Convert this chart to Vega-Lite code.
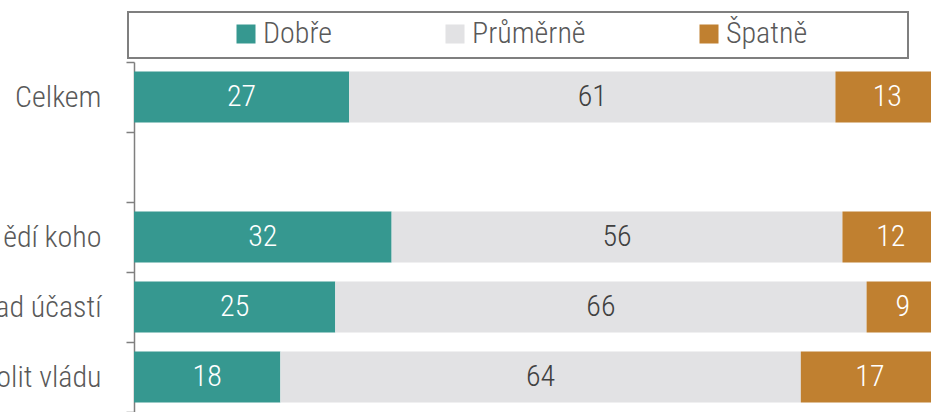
{
  "$schema": "https://vega.github.io/schema/vega-lite/v6.json",
  "autosize": {"type": "none"},
  "width": 797,
  "height": 350,
  "padding": {"left": 134, "top": 62, "right": 0, "bottom": 0},
  "background": "white",
  "config": {
    "view": {"stroke": null},
    "font": "Roboto Condensed, Liberation Sans Narrow, DejaVu Sans Condensed, sans-serif",
    "legend": {"strokeWidth": 2}
  },
  "data": {
    "values": [
      {"kat": "Celkem", "odpoved": "Dobře", "hodnota": 27},
      {"kat": "Celkem", "odpoved": "Průměrně", "hodnota": 61},
      {"kat": "Celkem", "odpoved": "Špatně", "hodnota": 13},
      {"kat": "ědí koho", "odpoved": "Dobře", "hodnota": 32},
      {"kat": "ědí koho", "odpoved": "Průměrně", "hodnota": 56},
      {"kat": "ědí koho", "odpoved": "Špatně", "hodnota": 12},
      {"kat": "ad účastí", "odpoved": "Dobře", "hodnota": 25},
      {"kat": "ad účastí", "odpoved": "Průměrně", "hodnota": 66},
      {"kat": "ad účastí", "odpoved": "Špatně", "hodnota": 9},
      {"kat": "olit vládu", "odpoved": "Dobře", "hodnota": 18},
      {"kat": "olit vládu", "odpoved": "Průměrně", "hodnota": 64},
      {"kat": "olit vládu", "odpoved": "Špatně", "hodnota": 17}
    ]
  },
  "transform": [
    {"stack": "hodnota", "groupby": ["kat"], "sort": [{"field": "odpoved", "order": "ascending"}], "offset": "normalize", "as": ["x0", "x1"]},
    {"calculate": "(datum.x0 + datum.x1) / 2", "as": "xm"}
  ],
  "encoding": {
    "y": {
      "field": "kat",
      "type": "nominal",
      "scale": {"domain": ["Celkem", " ", "ědí koho", "ad účastí", "olit vládu"], "paddingInner": 0, "paddingOuter": 0},
      "axis": {
        "title": null,
        "domainColor": "#7f7f7f",
        "domainWidth": 1.5,
        "tickColor": "#7f7f7f",
        "tickWidth": 1.5,
        "tickSize": 8,
        "tickBand": "extent",
        "labelPadding": 25,
        "labelFontSize": 30,
        "labelFontWeight": 300,
        "labelColor": "#595959",
        "labelLimit": 300
      }
    }
  },
  "layer": [
    {
      "mark": {"type": "bar", "clip": true, "height": {"band": 0.73}},
      "encoding": {
        "x": {"field": "x0", "type": "quantitative", "scale": {"domain": [0, 0.99], "nice": false, "zero": true}, "axis": null},
        "x2": {"field": "x1"},
        "color": {
          "field": "odpoved",
          "type": "nominal",
          "scale": {"domain": ["Dobře", "Průměrně", "Špatně"], "range": ["#369890", "#e2e2e4", "#c08030"]},
          "legend": {
            "title": " ",
            "titleOrient": "right",
            "titlePadding": 92,
            "orient": "none",
            "direction": "horizontal",
            "legendX": -6,
            "legendY": -50,
            "padding": 9,
            "strokeColor": "#7f7f7f",
            "fillColor": "white",
            "symbolType": "square",
            "symbolSize": 361,
            "symbolStrokeWidth": 0,
            "symbolOffset": 94,
            "labelOffset": 2,
            "columnPadding": 14,
            "labelFontSize": 30,
            "labelFontWeight": 300,
            "labelColor": "#595959",
            "labelLimit": 300,
            "clipHeight": 26
          }
        }
      }
    },
    {
      "mark": {"type": "text", "fontSize": 30, "fontWeight": 300, "clip": true},
      "encoding": {
        "x": {"field": "xm", "type": "quantitative"},
        "text": {"field": "hodnota", "type": "quantitative"},
        "color": {"condition": {"test": "datum.odpoved === 'Průměrně'", "value": "#404040"}, "value": "white"}
      }
    }
  ]
}
